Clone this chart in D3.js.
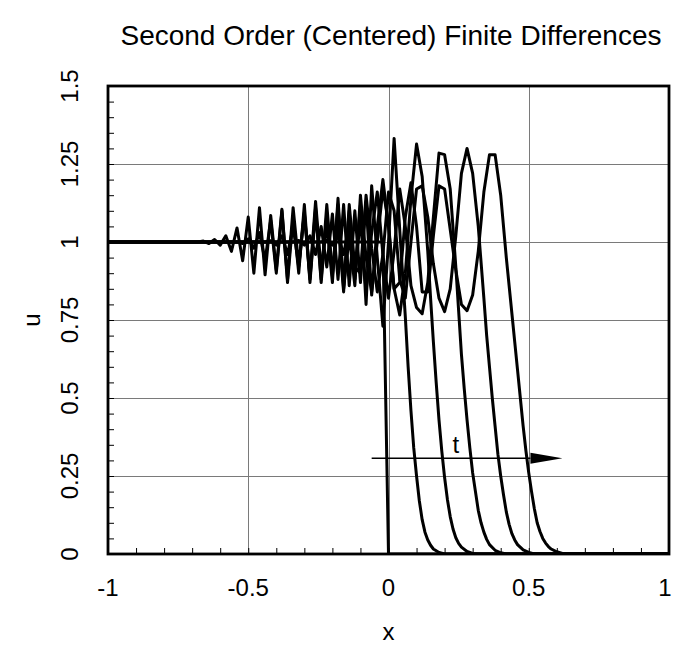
<!DOCTYPE html>
<html>
<head>
<meta charset="utf-8">
<script src="https://cdn.jsdelivr.net/npm/d3@7"></script>
<style>
  body { margin: 0; background: #fff; }
  text { font-family: "Liberation Sans", Arial, sans-serif; fill: #000; }
</style>
</head>
<body>
<script>
const W = 674
const H = 657
const margin = {left: 108, right: 5, top: 86, bottom: 103}

const title = 'Second Order (Centered) Finite Differences'
const xTicks = [-1, -0.5, 0, 0.5, 1]
const xTickLabels = ['-1', '-0.5', '0', '0.5', '1']
const yTicks = [0, 0.25, 0.5, 0.75, 1, 1.25, 1.5]
const yTickLabels = ['0', '0.25', '0.5', '0.75', '1', '1.25', '1.5']

// u(x) at successive times
const step0 = [[-1, 1], [-0.02, 1], [0, 0], [1, 0]]

const time1 = [[-1, 1], [-0.24, 1], [-0.22, 1.005], [-0.20, 0.99], [-0.18, 1.02], [-0.16, 0.96],
  [-0.14, 1.06], [-0.12, 0.90], [-0.10, 1.12], [-0.08, 0.80], [-0.06, 1.18], [-0.04, 0.95],
  [-0.02, 0.73], [0, 1.0], [0.02, 1.332], [0.04, 1.04], [0.05, 0.90], [0.06, 0.76], [0.07, 0.60],
  [0.08, 0.46], [0.09, 0.34], [0.10, 0.25], [0.11, 0.17], [0.12, 0.11], [0.13, 0.07], [0.14, 0.045],
  [0.15, 0.028], [0.16, 0.016], [0.18, 0.005], [0.20, 0], [1, 0]]

const time2 = [[-1, 1], [-0.34, 1], [-0.32, 1.005], [-0.30, 0.99], [-0.28, 1.02], [-0.26, 0.96],
  [-0.24, 1.05], [-0.22, 0.92], [-0.20, 1.09], [-0.18, 0.88], [-0.16, 1.12], [-0.14, 0.86],
  [-0.12, 1.10], [-0.10, 0.87], [-0.08, 1.13], [-0.06, 0.83], [-0.04, 1.05], [-0.02, 1.20],
  [0, 1.05], [0.02, 0.85], [0.04, 0.766], [0.06, 0.90], [0.08, 1.14], [0.10, 1.314], [0.12, 1.21],
  [0.14, 0.97], [0.15, 0.82], [0.16, 0.68], [0.17, 0.55], [0.18, 0.43], [0.19, 0.33], [0.20, 0.245],
  [0.21, 0.175], [0.22, 0.12], [0.23, 0.08], [0.24, 0.052], [0.25, 0.034], [0.26, 0.022],
  [0.28, 0.008], [0.30, 0.002], [0.32, 0], [1, 0]]

const time3 = [[-1, 1], [-0.44, 1], [-0.42, 1.004], [-0.40, 0.99], [-0.38, 1.02], [-0.36, 0.96],
  [-0.34, 1.05], [-0.32, 0.92], [-0.30, 1.09], [-0.28, 0.88], [-0.26, 1.11], [-0.24, 0.87],
  [-0.22, 1.09], [-0.20, 0.89], [-0.18, 1.12], [-0.16, 0.86], [-0.14, 1.10], [-0.12, 0.88],
  [-0.10, 1.08], [-0.08, 0.84], [-0.06, 1.03], [-0.04, 1.16], [-0.02, 0.96], [0, 0.82],
  [0.02, 0.97], [0.04, 1.17], [0.06, 1.05], [0.08, 0.86], [0.10, 0.79], [0.12, 0.77], [0.14, 0.87],
  [0.16, 1.08], [0.18, 1.285], [0.20, 1.28], [0.22, 1.17], [0.24, 0.92], [0.25, 0.78], [0.26, 0.64],
  [0.27, 0.53], [0.28, 0.43], [0.29, 0.34], [0.30, 0.26], [0.31, 0.20], [0.32, 0.14], [0.33, 0.10],
  [0.34, 0.07], [0.35, 0.047], [0.36, 0.03], [0.38, 0.012], [0.40, 0.004], [0.42, 0], [1, 0]]

const time4 = [[-1, 1], [-0.54, 1], [-0.52, 0.995], [-0.50, 1.01], [-0.48, 0.98], [-0.46, 1.03],
  [-0.44, 0.94], [-0.42, 1.07], [-0.40, 0.90], [-0.38, 1.10], [-0.36, 0.87], [-0.34, 1.08],
  [-0.32, 0.90], [-0.30, 1.12], [-0.28, 0.87], [-0.26, 1.10], [-0.24, 0.88], [-0.22, 1.12],
  [-0.20, 0.90], [-0.18, 1.06], [-0.16, 0.84], [-0.14, 1.12], [-0.12, 0.92], [-0.10, 0.90],
  [-0.08, 1.15], [-0.06, 0.98], [-0.04, 0.84], [-0.02, 0.96], [0, 1.16], [0.02, 1.10], [0.04, 0.88],
  [0.06, 0.82], [0.08, 1.00], [0.10, 1.17], [0.12, 1.18], [0.14, 1.08], [0.16, 0.93], [0.18, 0.82],
  [0.20, 0.777], [0.22, 0.85], [0.24, 1.02], [0.26, 1.22], [0.28, 1.30], [0.30, 1.22], [0.32, 1.05],
  [0.34, 0.82], [0.35, 0.70], [0.36, 0.60], [0.37, 0.50], [0.38, 0.41], [0.39, 0.32], [0.40, 0.25],
  [0.41, 0.19], [0.42, 0.135], [0.43, 0.095], [0.44, 0.065], [0.45, 0.045], [0.46, 0.03],
  [0.48, 0.013], [0.50, 0.005], [0.52, 0], [1, 0]]

const time5 = [[-1, 1], [-0.70, 1], [-0.68, 1.0], [-0.66, 1.003], [-0.64, 0.995], [-0.62, 1.008],
  [-0.60, 0.99], [-0.58, 1.02], [-0.56, 0.97], [-0.54, 1.045], [-0.52, 0.94], [-0.50, 1.08],
  [-0.48, 0.90], [-0.46, 1.11], [-0.44, 0.895], [-0.42, 1.085], [-0.40, 0.91], [-0.38, 1.105],
  [-0.36, 0.88], [-0.34, 1.11], [-0.32, 0.925], [-0.30, 1.095], [-0.28, 0.89], [-0.26, 1.13],
  [-0.24, 0.91], [-0.22, 1.06], [-0.20, 0.87], [-0.18, 1.14], [-0.16, 0.85], [-0.14, 1.02],
  [-0.12, 0.86], [-0.10, 1.15], [-0.08, 0.95], [-0.06, 0.84], [-0.04, 1.00], [-0.02, 1.17],
  [0, 1.06], [0.02, 0.85], [0.04, 0.87], [0.06, 1.08], [0.08, 1.19], [0.10, 1.05], [0.12, 0.84],
  [0.14, 0.84], [0.16, 1.02], [0.18, 1.18], [0.20, 1.17], [0.22, 1.04], [0.24, 0.91], [0.26, 0.80],
  [0.28, 0.78], [0.30, 0.83], [0.32, 0.97], [0.34, 1.16], [0.36, 1.28], [0.38, 1.28], [0.40, 1.15],
  [0.42, 0.95], [0.44, 0.77], [0.45, 0.68], [0.46, 0.59], [0.47, 0.50], [0.48, 0.41], [0.49, 0.33],
  [0.50, 0.26], [0.51, 0.20], [0.52, 0.145], [0.53, 0.10], [0.54, 0.072], [0.55, 0.05],
  [0.56, 0.035], [0.57, 0.024], [0.58, 0.016], [0.60, 0.007], [0.62, 0.002], [0.64, 0], [1, 0]]

const curves = [step0, time1, time2, time3, time4, time5]

// arrow for direction of time (data coords)
const arrowFrom = [-0.06, 0.307]
const arrowTo = [0.62, 0.307]
const arrowLabel = 't'

const svg = d3.select('body').append('svg')
  .attr('width', W)
  .attr('height', H)

svg.append('rect').attr('width', W).attr('height', H).attr('fill', '#fff')

const xScale = d3.scaleLinear().domain([-1, 1]).range([margin.left, W - margin.right])
const yScale = d3.scaleLinear().domain([0, 1.5]).range([H - margin.bottom, margin.top])

const x0 = xScale.range()[0], x1 = xScale.range()[1]
const y0 = yScale.range()[0], y1 = yScale.range()[1]

// grid
const grid = svg.append('g').attr('stroke', '#7a7a7a').attr('stroke-width', 1)
grid.selectAll('.gx')
  .data(xTicks.filter(d => d > -1 && d < 1))
  .enter().append('line')
  .attr('x1', d => Math.round(xScale(d)) + 0.5).attr('x2', d => Math.round(xScale(d)) + 0.5)
  .attr('y1', y1).attr('y2', y0)
grid.selectAll('.gy')
  .data(yTicks.filter(d => d > 0 && d < 1.5))
  .enter().append('line')
  .attr('y1', d => Math.round(yScale(d)) + 0.5).attr('y2', d => Math.round(yScale(d)) + 0.5)
  .attr('x1', x0).attr('x2', x1)

// minor ticks, pointing inward
const xMinor = d3.axisBottom(xScale).tickValues(d3.range(-0.9, 0.95, 0.1)).tickSize(-6).tickFormat('')
svg.append('g').attr('transform', `translate(0,${y0})`).call(xMinor)
  .call(g => g.select('.domain').remove())
  .selectAll('line').attr('stroke', '#000').attr('stroke-width', 1)

const yMinor = d3.axisLeft(yScale).tickValues(d3.range(0.05, 1.5, 0.05)).tickSize(-6).tickFormat('')
svg.append('g').attr('transform', `translate(${x0},0)`).call(yMinor)
  .call(g => g.select('.domain').remove())
  .selectAll('line').attr('stroke', '#000').attr('stroke-width', 1)

// curves
svg.append('clipPath').attr('id', 'plotclip')
  .append('rect').attr('x', x0).attr('y', y1).attr('width', x1 - x0).attr('height', y0 - y1)

const lineFun = d3.line()
  .x(d => xScale(d[0]))
  .y(d => yScale(d[1]))
  .curve(d3.curveLinear)

svg.append('g').attr('clip-path', 'url(#plotclip)')
  .selectAll('path')
  .data(curves)
  .enter().append('path')
  .attr('d', lineFun)
  .attr('fill', 'none')
  .attr('stroke', '#000')
  .attr('stroke-width', 3)
  .attr('stroke-linejoin', 'round')

// arrow
const ax0 = xScale(arrowFrom[0]), ax1 = xScale(arrowTo[0]), ay = yScale(arrowFrom[1])
const headLen = 32
svg.append('line')
  .attr('x1', ax0).attr('x2', ax1 - headLen).attr('y1', ay).attr('y2', ay)
  .attr('stroke', '#000').attr('stroke-width', 1.5)
svg.append('path')
  .attr('d', `M${ax1 - headLen},${ay - 5.5}L${ax1},${ay}L${ax1 - headLen},${ay + 5.5}Z`)
  .attr('fill', '#000')
svg.append('text')
  .attr('x', xScale(0.24)).attr('y', ay - 5)
  .attr('text-anchor', 'middle')
  .style('font-size', '24px')
  .text(arrowLabel)

// frame
svg.append('rect')
  .attr('x', x0).attr('y', y1).attr('width', x1 - x0).attr('height', y0 - y1)
  .attr('fill', 'none').attr('stroke', '#000').attr('stroke-width', 2.8)

// tick labels (last one nudged in so it is not cut by the page edge)
svg.selectAll('.xl')
  .data(xTicks)
  .enter().append('text')
  .attr('x', d => Math.min(xScale(d), W - 9)).attr('y', y0 + 42)
  .attr('text-anchor', 'middle')
  .style('font-size', '24px')
  .text((d, i) => xTickLabels[i])

svg.selectAll('.yl')
  .data(yTicks)
  .enter().append('text')
  .attr('transform', d => `translate(${x0 - 30},${yScale(d)}) rotate(-90)`)
  .attr('text-anchor', 'middle')
  .style('font-size', '24px')
  .text((d, i) => yTickLabels[i])

// axis titles
svg.append('text')
  .attr('x', (x0 + x1) / 2).attr('y', 640)
  .attr('text-anchor', 'middle')
  .style('font-size', '24px')
  .text('x')

svg.append('text')
  .attr('transform', `translate(40,${(y0 + y1) / 2}) rotate(-90)`)
  .attr('text-anchor', 'middle')
  .style('font-size', '24px')
  .text('u')

svg.append('text')
  .attr('x', 391).attr('y', 45)
  .attr('text-anchor', 'middle')
  .style('font-size', '28px')
  .text(title)
</script>
</body>
</html>
